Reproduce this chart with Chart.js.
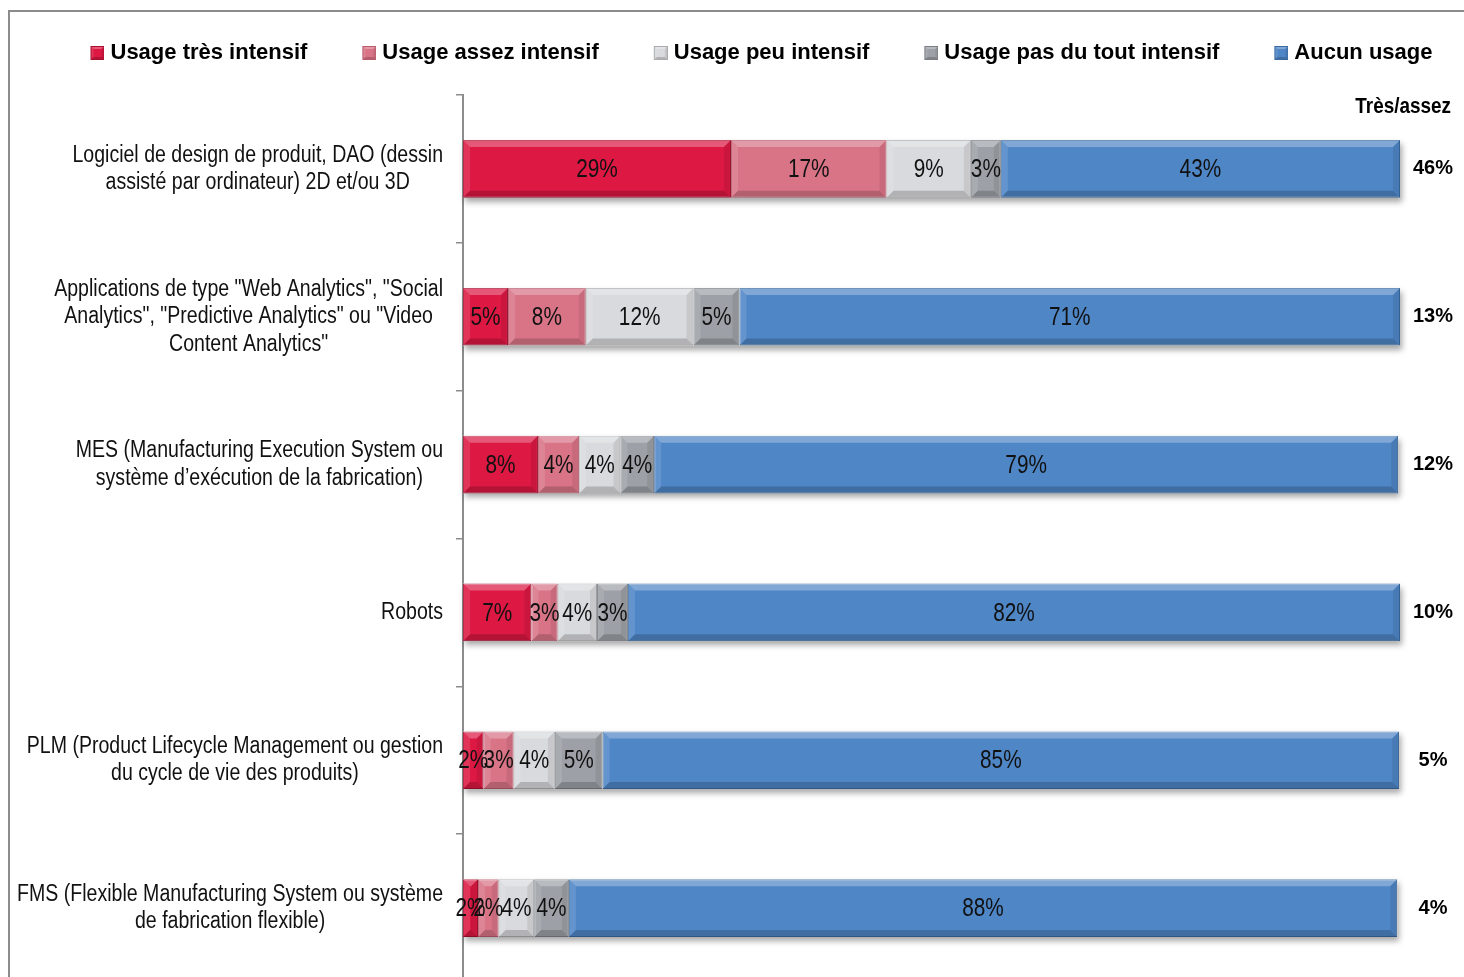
<!DOCTYPE html>
<html>
<head>
<meta charset="utf-8">
<script src="https://cdn.jsdelivr.net/npm/chart.js@4.4.0/dist/chart.umd.min.js"></script>
<style>
  html, body { margin: 0; padding: 0; background: #fff; }
  #wrap { width: 1464px; height: 977px; overflow: hidden; }
</style>
</head>
<body>
<div id="wrap"><canvas id="chart" width="1464" height="1007"></canvas></div>
<script>
const categories = [
  ["Logiciel de design de produit, DAO (dessin", "assisté par ordinateur) 2D et/ou 3D"],
  ["Applications de type \"Web Analytics\", \"Social", "Analytics\", \"Predictive Analytics\" ou \"Video", "Content Analytics\""],
  ["MES (Manufacturing Execution System ou", "système d’exécution de la fabrication)"],
  ["Robots"],
  ["PLM (Product Lifecycle Management ou gestion", "du cycle de vie des produits)"],
  ["FMS (Flexible Manufacturing System ou système", "de fabrication flexible)"]
];
const seriesNames = ["Usage très intensif", "Usage assez intensif", "Usage peu intensif", "Usage pas du tout intensif", "Aucun usage"];
const veryIntensive = [28.6, 4.8, 8.0, 7.3, 2.2, 1.6];
const fairlyIntensive = [16.6, 8.3, 4.4, 2.8, 3.2, 2.2];
const slightlyIntensive = [9.0, 11.5, 4.4, 4.2, 4.4, 3.8];
const notIntensive = [3.2, 4.9, 3.6, 3.3, 5.1, 3.7];
const noUsage = [42.6, 70.5, 79.4, 82.4, 85.0, 88.4];
const totals = [46, 13, 12, 10, 5, 4];
const totalsHeader = "Très/assez";

const FONT = "'Liberation Sans', Arial, sans-serif";
const fills = ["#DC1843", "#D97487", "#D9DADD", "#9DA1A7", "#4F86C6"];
const edges = ["#A80F30", "#B85A6C", "#A9ABAF", "#7A7E84", "#3A6A9F"];

function poly(ctx, pts, fill) {
  ctx.beginPath();
  pts.forEach(([x, y], i) => i ? ctx.lineTo(x, y) : ctx.moveTo(x, y));
  ctx.closePath();
  ctx.fillStyle = fill;
  ctx.fill();
}

function bevel(ctx, l, t, r, b, size) {
  const s = Math.min(size, (r - l) / 2, (b - t) / 2);
  poly(ctx, [[l, t], [r, t], [r - s, t + s], [l + s, t + s]], "rgba(255,255,255,0.28)");
  poly(ctx, [[l, t], [l + s, t + s], [l + s, b - s], [l, b]], "rgba(255,255,255,0.12)");
  poly(ctx, [[r, t], [r, b], [r - s, b - s], [r - s, t + s]], "rgba(0,0,0,0.08)");
  poly(ctx, [[l, b], [l + s, b - s], [r - s, b - s], [r, b]], "rgba(0,0,0,0.18)");
}

// squeeze text horizontally so Liberation Sans looks like the narrow original
function narrowText(ctx, s, x, y, k) {
  ctx.save();
  ctx.translate(x, y);
  ctx.scale(k, 1);
  ctx.fillText(s, 0, 0);
  ctx.restore();
}

// legend icons: transparent room on the left, bevelled square on the right
const legendIcons = fills.map((c, i) => {
  const cv = document.createElement("canvas");
  cv.width = 64; cv.height = 14;
  const g = cv.getContext("2d");
  g.fillStyle = c;
  g.fillRect(50, 0, 14, 14);
  bevel(g, 50, 0, 64, 14, 3);
  g.strokeStyle = edges[i];
  g.lineWidth = 1;
  g.strokeRect(50.5, 0.5, 13, 13);
  return cv;
});

const frame = {
  id: "frame",
  beforeDraw(chart) {
    const ctx = chart.ctx;
    ctx.save();
    ctx.strokeStyle = "#8c8c8c";
    ctx.lineWidth = 2;
    ctx.beginPath();
    ctx.moveTo(9, 2000);
    ctx.lineTo(9, 11);
    ctx.lineTo(1464, 11);
    ctx.stroke();
    ctx.restore();
  }
};

const barShadow = {
  id: "barShadow",
  beforeDatasetsDraw(chart) {
    const ctx = chart.ctx;
    ctx.save();
    ctx.shadowColor = "rgba(0,0,0,0.35)";
    ctx.shadowBlur = 6;
    ctx.shadowOffsetX = 2;
    ctx.shadowOffsetY = 4;
    ctx.fillStyle = "#fff";
    categories.forEach((_, i) => {
      let l = Infinity, r = -Infinity, y = 0, h = 0;
      chart.data.datasets.forEach((ds, di) => {
        const p = chart.getDatasetMeta(di).data[i].getProps(["x", "y", "base", "height"], true);
        l = Math.min(l, p.base, p.x);
        r = Math.max(r, p.base, p.x);
        y = p.y; h = p.height;
      });
      ctx.fillRect(l, y - h / 2, r - l, h);
    });
    ctx.restore();
  }
};

const barDecor = {
  id: "barDecor",
  afterDatasetsDraw(chart) {
    const ctx = chart.ctx;
    ctx.save();
    chart.data.datasets.forEach((ds, di) => {
      chart.getDatasetMeta(di).data.forEach(el => {
        const p = el.getProps(["x", "y", "base", "height"], true);
        bevel(ctx, Math.min(p.base, p.x), p.y - p.height / 2, Math.max(p.base, p.x), p.y + p.height / 2, 7);
      });
    });
    ctx.fillStyle = "#111";
    ctx.font = "26px " + FONT;
    ctx.textAlign = "center";
    ctx.textBaseline = "middle";
    chart.data.datasets.forEach((ds, di) => {
      chart.getDatasetMeta(di).data.forEach((el, i) => {
        const p = el.getProps(["x", "y", "base"], true);
        narrowText(ctx, Math.round(ds.data[i]) + "%", (p.x + p.base) / 2, p.y + 1, 0.8);
      });
    });
    ctx.restore();
  }
};

const sideText = {
  id: "sideText",
  afterDraw(chart) {
    const ctx = chart.ctx;
    const y = chart.scales.y;
    const k = 0.85;
    ctx.save();
    ctx.fillStyle = "#111";
    ctx.font = "23px " + FONT;
    ctx.textAlign = "center";
    ctx.textBaseline = "middle";
    const right = y.right - 20;
    const lineH = 27.5;
    categories.forEach((lines, i) => {
      const yc = y.getPixelForTick(i);
      const w = Math.max(...lines.map(s => ctx.measureText(s).width)) * k;
      lines.forEach((s, j) => {
        narrowText(ctx, s, right - w / 2, yc + (j - (lines.length - 1) / 2) * lineH, k);
      });
    });
    ctx.font = "bold 22px " + FONT;
    ctx.textAlign = "right";
    ctx.fillStyle = "#000";
    narrowText(ctx, totalsHeader, 1451, chart.chartArea.top + 12, 0.86);
    ctx.restore();
  }
};

const seriesData = [veryIntensive, fairlyIntensive, slightlyIntensive, notIntensive, noUsage];

new Chart(document.getElementById("chart"), {
  type: "bar",
  data: {
    labels: categories.map(c => c.join(" ")),
    datasets: seriesData.map((d, i) => ({
      label: seriesNames[i],
      data: d,
      backgroundColor: fills[i],
      borderColor: edges[i],
      borderWidth: 1,
      borderSkipped: false,
      categoryPercentage: 1,
      barPercentage: 0.39
    }))
  },
  options: {
    indexAxis: "y",
    responsive: false,
    animation: false,
    layout: { padding: { left: 14, top: 32, right: 0, bottom: 7 } },
    plugins: {
      tooltip: { enabled: false },
      legend: {
        position: "top",
        align: "center",
        labels: {
          usePointStyle: true,
          pointStyleWidth: 54,
          padding: 10,
          color: "#000",
          font: { family: FONT, size: 22, weight: "bold" },
          generateLabels(chart) {
            return Chart.defaults.plugins.legend.labels.generateLabels(chart)
              .map((it, i) => ({ ...it, pointStyle: legendIcons[i] }));
          }
        }
      }
    },
    scales: {
      x: {
        position: "top",
        stacked: true,
        min: 0,
        max: 100,
        ticks: { display: false },
        grid: { display: false },
        border: { display: false },
        afterFit: s => { s.height = 21; }
      },
      y: {
        stacked: true,
        ticks: { display: false },
        grid: { display: true, drawOnChartArea: false, drawTicks: true, tickLength: 7, color: "#8c8c8c", lineWidth: 1.5 },
        border: { display: true, color: "#8c8c8c", width: 2 },
        afterFit: s => { s.width = 449; }
      },
      y2: {
        type: "category",
        position: "right",
        offset: true,
        labels: totals.map(v => v + "%"),
        grid: { display: false, drawTicks: false },
        border: { display: false },
        ticks: { crossAlign: "center", padding: 13, color: "#000", font: { family: FONT, size: 20, weight: "bold" } },
        afterFit: s => { s.width = 64; }
      }
    }
  },
  plugins: [frame, barShadow, barDecor, sideText]
});
</script>
</body>
</html>
